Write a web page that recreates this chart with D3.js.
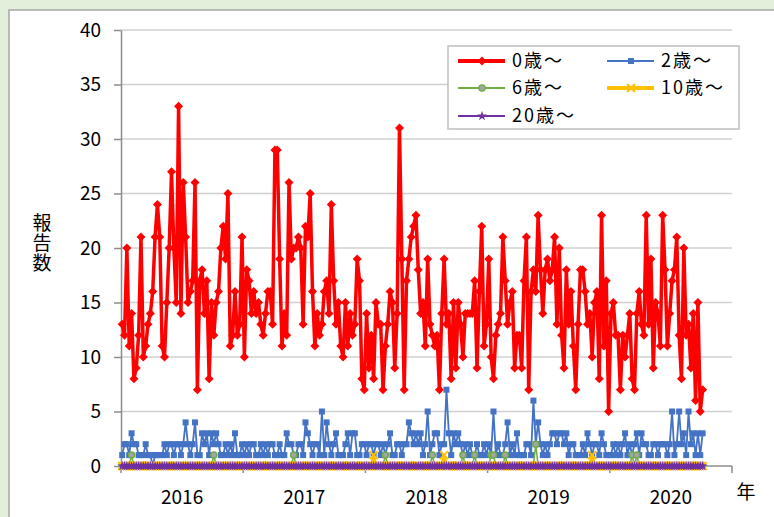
<!DOCTYPE html>
<html>
<head>
<meta charset="utf-8">
<script src="https://cdn.jsdelivr.net/npm/d3@7"></script>
<style>
  body { margin: 0; background: #E2EFDA; }
  svg { display: block; }
  text { font-family: "Noto Sans CJK JP", "Noto Sans", sans-serif; fill: #000; }
</style>
</head>
<body>
<svg></svg>
<script>
const width = 774;
const height = 517;

// Category axis: weekly reports, 52 weeks per year
const years = ["2016", "2017", "2018", "2019", "2020"];
const weeksPerYear = 52;
const yTicks = [0, 5, 10, 15, 20, 25, 30, 35, 40];

// Weekly report counts per age group (one row per year)
const age0 = [
  13,12,20,11,14,8,9,12,21,10,11,13,14,16,21,24,21,11,10,15,20,27,20,15,33,14,26,21,15,16,17,26,7,17,18,14,17,8,15,12,15,16,20,22,19,25,11,12,16,12,13,21,
  10,18,17,14,16,14,15,13,12,14,16,16,13,29,29,19,11,14,12,26,19,20,20,21,20,13,22,21,25,16,11,14,12,13,16,17,14,24,17,13,15,11,10,15,11,14,12,13,19,17,8,7,
  14,9,12,8,15,13,13,7,11,13,16,15,9,14,31,19,7,17,19,21,22,23,18,14,15,11,19,13,12,11,12,7,14,19,13,14,8,15,9,15,13,10,14,14,14,14,17,9,16,22,11,13,
  19,10,8,12,13,14,21,17,13,15,16,9,12,12,9,17,21,7,16,18,16,23,18,14,18,19,17,18,21,13,20,12,9,18,13,16,11,7,13,18,18,16,13,14,10,15,16,8,23,11,17,5,
  14,15,12,12,7,12,10,12,14,8,7,14,16,13,12,23,13,19,9,15,14,11,23,18,11,14,17,18,21,12,8,20,12,13,9,14,6,15,5,7
];
const age2 = [
  1,2,2,1,3,2,2,1,1,1,2,1,1,0,1,1,1,1,2,1,2,2,1,2,2,1,2,4,2,1,2,4,1,1,3,2,3,1,3,2,3,2,1,1,2,1,2,1,3,1,1,2,
  1,2,1,2,2,1,1,2,1,2,1,2,2,1,1,2,1,1,3,2,2,1,1,2,2,1,4,3,2,1,2,2,1,5,1,4,2,1,2,3,1,1,1,2,3,1,3,3,1,1,2,2,
  1,2,2,1,2,2,1,2,1,2,3,1,1,2,2,1,2,2,4,3,2,3,2,3,1,2,5,1,2,3,3,1,2,2,7,3,1,3,2,3,2,1,2,1,2,1,1,2,1,1,2,1,
  2,1,5,1,2,1,1,2,4,1,2,1,3,1,1,1,2,2,1,6,2,4,2,1,2,1,2,3,3,2,3,3,2,3,1,2,2,1,1,1,2,1,3,2,1,2,2,1,3,2,1,1,
  1,2,1,2,1,2,3,1,2,1,2,3,1,3,2,2,1,1,2,2,1,2,2,2,1,2,5,1,2,5,2,3,1,5,2,3,1,3,1,3
];
const age6 = [
  0,0,0,0,1,0,0,0,0,0,0,0,0,0,0,0,0,0,0,0,0,0,0,0,0,0,0,0,0,0,0,0,0,0,0,0,0,0,0,1,0,0,0,0,0,0,0,0,0,0,0,0,
  0,0,0,0,0,0,0,0,0,0,0,0,0,0,0,0,0,0,0,0,0,1,0,0,0,0,0,0,0,0,0,0,0,0,0,0,0,0,0,0,0,0,0,0,0,0,0,0,0,0,0,0,
  0,0,0,0,0,0,0,0,1,0,0,0,0,0,0,0,0,0,0,0,0,0,0,0,0,0,0,0,1,0,0,0,0,0,0,0,0,0,0,0,0,1,0,0,0,0,1,0,0,0,0,0,
  0,1,1,0,0,0,0,1,0,0,0,0,0,0,0,0,0,0,0,0,2,0,0,0,0,0,0,0,0,0,0,0,0,0,0,0,0,0,0,0,0,0,0,0,0,0,0,0,0,0,0,0,
  0,0,0,0,0,0,0,0,0,1,0,1,0,0,0,0,0,0,0,0,0,0,0,0,0,0,0,0,0,0,0,0,0,0,0,0,0,0,0,0
];
const age10 = [
  0,0,0,0,0,0,0,0,0,0,0,0,0,0,0,0,0,0,0,0,0,0,0,0,0,0,0,0,0,0,0,0,0,0,0,0,0,0,0,0,0,0,0,0,0,0,0,0,0,0,0,0,
  0,0,0,0,0,0,0,0,0,0,0,0,0,0,0,0,0,0,0,0,0,0,0,0,0,0,0,0,0,0,0,0,0,0,0,0,0,0,0,0,0,0,0,0,0,0,0,0,0,0,0,0,
  0,0,0,1,0,0,0,0,0,0,0,0,0,0,0,0,0,0,0,0,0,0,0,0,0,0,0,0,0,0,0,0,0,1,0,0,0,0,0,0,0,0,0,0,0,0,0,0,0,0,0,0,
  0,0,0,0,0,0,0,0,0,0,0,0,0,0,0,0,0,0,0,0,0,0,0,0,0,0,0,0,0,0,0,0,0,0,0,0,0,0,0,0,0,0,0,0,1,0,0,0,0,0,0,0,
  0,0,0,0,0,0,0,0,0,0,0,0,0,0,0,0,0,0,0,0,0,0,0,0,0,0,0,0,0,0,0,0,0,0,0,0,0,0,0,0
];
const age20 = [
  0,0,0,0,0,0,0,0,0,0,0,0,0,0,0,0,0,0,0,0,0,0,0,0,0,0,0,0,0,0,0,0,0,0,0,0,0,0,0,0,0,0,0,0,0,0,0,0,0,0,0,0,
  0,0,0,0,0,0,0,0,0,0,0,0,0,0,0,0,0,0,0,0,0,0,0,0,0,0,0,0,0,0,0,0,0,0,0,0,0,0,0,0,0,0,0,0,0,0,0,0,0,0,0,0,
  0,0,0,0,0,0,0,0,0,0,0,0,0,0,0,0,0,0,0,0,0,0,0,0,0,0,0,0,0,0,0,0,0,0,0,0,0,0,0,0,0,0,0,0,0,0,0,0,0,0,0,0,
  0,0,0,0,0,0,0,0,0,0,0,0,0,0,0,0,0,0,0,0,0,0,0,0,0,0,0,0,0,0,0,0,0,0,0,0,0,0,0,0,0,0,0,0,0,0,0,0,0,0,0,0,
  0,0,0,0,0,0,0,0,0,0,0,0,0,0,0,0,0,0,0,0,0,0,0,0,0,0,0,0,0,0,0,0,0,0,0,0,0,0,0,0
];

const seriesNames = ["0歳〜", "2歳〜", "6歳〜", "10歳〜", "20歳〜"];
const seriesColors = ["#FF0000", "#4472C4", "#70AD47", "#FFC000", "#7030A0"];
const seriesValues = [age0, age2, age6, age10, age20];

const svg = d3.select("svg")
    .attr("width", width)
    .attr("height", height);

// White chart panel on the green sheet
svg.append("rect")
    .attr("x", 9).attr("y", 10)
    .attr("width", 800).attr("height", 540)
    .attr("fill", "#fff")
    .attr("stroke", "#A6A6A6")
    .attr("stroke-width", 1.5);

const plot = { left: 121, right: 732, top: 30, bottom: 466 };

const x = d3.scaleBand()
    .domain(d3.range(years.length * weeksPerYear))
    .range([plot.left, plot.right]);
const xc = i => x(i) + x.bandwidth() / 2;
const yearScale = d3.scaleBand().domain(years).range([plot.left, plot.right]);
const y = d3.scaleLinear().domain([0, 40]).range([plot.bottom, plot.top]);

// Horizontal gridlines
svg.append("g")
    .selectAll("line")
    .data(yTicks.filter(d => d > 0))
    .join("line")
    .attr("x1", plot.left).attr("x2", plot.right)
    .attr("y1", d => y(d)).attr("y2", d => y(d))
    .attr("stroke", "#D0D0D0")
    .attr("stroke-width", 1.5);

// Y axis
svg.append("g")
    .attr("transform", `translate(${plot.left},0)`)
    .call(d3.axisLeft(y).tickValues(yTicks).tickSize(7).tickSizeOuter(0).tickPadding(13))
    .call(g => g.select(".domain").attr("stroke", "#8C8C8C").attr("stroke-width", 1.5))
    .call(g => g.selectAll(".tick line").attr("stroke", "#8C8C8C").attr("stroke-width", 1.5))
    .call(g => g.selectAll(".tick text")
        .attr("font-family", "Noto Sans CJK JP")
        .attr("font-size", 19)
        .attr("fill", "#000"));

// X axis: baseline with ticks at year boundaries
const xAxis = svg.append("g");
xAxis.append("line")
    .attr("x1", plot.left).attr("x2", plot.right)
    .attr("y1", plot.bottom).attr("y2", plot.bottom)
    .attr("stroke", "#8C8C8C").attr("stroke-width", 1.5);
xAxis.selectAll(".yt")
    .data(years.map(yr => yearScale(yr)).concat([plot.right]))
    .join("line")
    .attr("class", "yt")
    .attr("x1", d => d).attr("x2", d => d)
    .attr("y1", plot.bottom).attr("y2", plot.bottom + 7)
    .attr("stroke", "#8C8C8C").attr("stroke-width", 1.5);
xAxis.selectAll("text")
    .data(years)
    .join("text")
    .attr("x", d => yearScale(d) + yearScale.bandwidth() / 2)
    .attr("y", 504)
    .attr("text-anchor", "middle")
    .attr("font-size", 19)
    .text(d => d);

svg.append("text")
    .attr("x", 746).attr("y", 499)
    .attr("text-anchor", "middle")
    .attr("font-size", 19)
    .text("年");

// Y axis title, written vertically
svg.append("text")
    .attr("x", 42)
    .attr("y", 213)
    .attr("writing-mode", "vertical-rl")
    .attr("font-size", 19)
    .attr("letter-spacing", 1)
    .text("報告数");

// Marker shapes
function drawMarker(sel, k, color) {
    if (k === 0) {
        sel.append("path").attr("d", "M0,-4.5L4.5,0L0,4.5L-4.5,0Z").attr("fill", color);
    } else if (k === 1) {
        sel.append("rect").attr("x", -3).attr("y", -3).attr("width", 6).attr("height", 6).attr("fill", color);
    } else if (k === 2) {
        sel.append("circle").attr("r", 3).attr("fill", "#A5A5A5").attr("stroke", color).attr("stroke-width", 1.5);
    } else if (k === 3) {
        sel.append("path").attr("d", "M-4,-4L4,4M-4,4L4,-4").attr("stroke", color).attr("stroke-width", 2).attr("fill", "none");
    } else {
        sel.append("path").attr("d", d3.symbol(d3.symbolStar, 30)()).attr("fill", color);
    }
}

const lineWidths = [3.5, 1.8, 1.5, 3, 3.5];
const line = d3.line().x((d, i) => xc(i)).y(d => y(d));

seriesValues.forEach((vals, k) => {
    const g = svg.append("g");
    g.append("path")
        .datum(vals)
        .attr("d", line)
        .attr("fill", "none")
        .attr("stroke", seriesColors[k])
        .attr("stroke-width", lineWidths[k])
        .attr("stroke-linejoin", "round");
    g.selectAll("g")
        .data(vals)
        .join("g")
        .attr("transform", (d, i) => `translate(${xc(i)},${y(d)})`)
        .each(function() { drawMarker(d3.select(this), k, seriesColors[k]); });
});

// Legend
const legend = svg.append("g");
legend.append("rect")
    .attr("x", 448).attr("y", 46)
    .attr("width", 291).attr("height", 83)
    .attr("fill", "#fff")
    .attr("stroke", "#BFBFBF")
    .attr("stroke-width", 1.5);

const legendCols = [458, 607];
const legendRows = [61, 88, 116];
seriesNames.forEach((name, k) => {
    const lx = legendCols[k % 2];
    const ly = legendRows[Math.floor(k / 2)];
    const item = legend.append("g").attr("transform", `translate(${lx},${ly})`);
    item.append("line")
        .attr("x1", 0).attr("x2", 47)
        .attr("stroke", seriesColors[k])
        .attr("stroke-width", k === 0 || k === 3 ? 4 : 2);
    drawMarker(item.append("g").attr("transform", "translate(24,0)"), k, seriesColors[k]);
    item.append("text")
        .attr("x", 54)
        .attr("dy", "0.35em")
        .attr("font-size", 18)
        .attr("letter-spacing", 2)
        .text(name);
});
</script>
</body>
</html>
